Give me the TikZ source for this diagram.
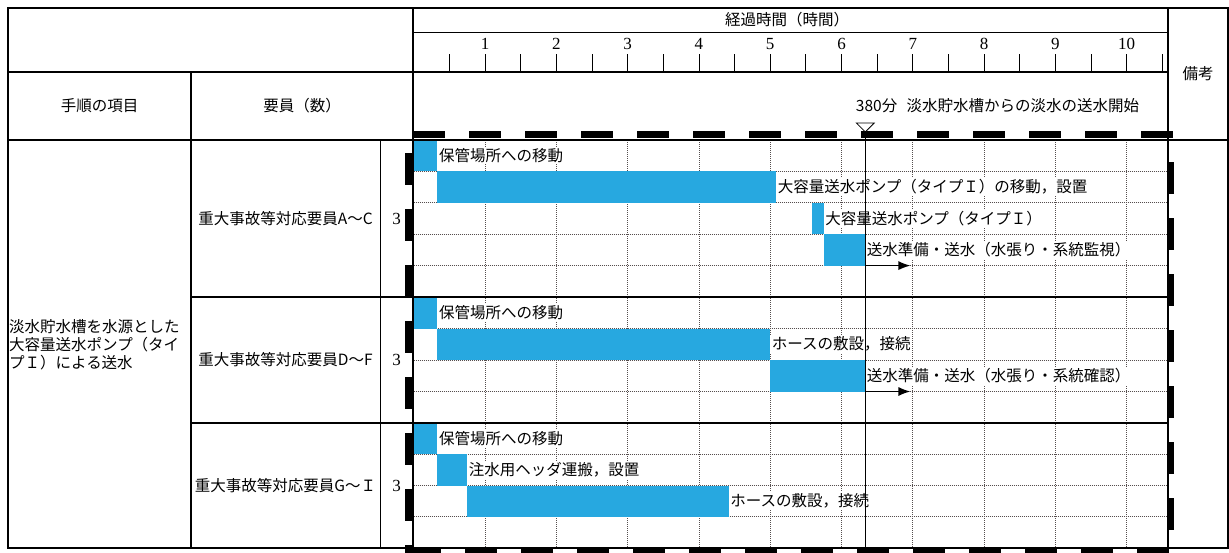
\documentclass[tikz,border=0pt]{standalone}
\usepackage{fontspec}
\setmainfont{Noto Sans CJK JP}
\newfontfamily\numfont{Liberation Serif}
\usetikzlibrary{arrows.meta}
\definecolor{pompe}{RGB}{39,168,224}
\definecolor{grille}{RGB}{85,78,78}

\begin{document}
\begin{tikzpicture}[x=1pt,y=-1pt,
  bar/.style={fill=pompe},
  task/.style={anchor=west,fill=white,inner sep=1.5pt,font=\fontsize{15.5}{16}\selectfont},
  lbl/.style={inner sep=0pt,font=\fontsize{15.5}{18}\selectfont},
  num/.style={inner sep=0pt,font=\numfont\fontsize{17}{17}\selectfont},
  grid/.style={grille,line width=0.7pt,dash pattern=on 1pt off 1pt},
  rule/.style={line width=1.3pt},
  go/.style={line width=1.3pt,-{Latex[length=12pt,width=9pt]}},
  bigdash/.style={line width=7.5pt,dash pattern=on 32pt off 24pt}]
\useasboundingbox (0,0) rectangle (1229,552);
\clip (0,0) rectangle (1229,552);

% chart area, x in minutes
\begin{scope}[shift={(413.7,0)},x=1.18833pt]
\foreach \m in {60,120,...,600}
  \draw[grid] (\m,140) -- (\m,548);
\foreach \yy in {171.4,202.8,234.2,265.6,328.5,360,391.5,454.25,485.5,516.75}
  \draw[grid] (0,\yy) -- (634.8,\yy);

\fill[bar] (0,140) rectangle (20,171.4);
\fill[bar] (20,171.4) rectangle (305,202.8);
\fill[bar] (335,202.8) rectangle (345,234.2);
\fill[bar] (345,234.2) rectangle (380,265.6);
\fill[bar] (0,297) rectangle (20,328.5);
\fill[bar] (20,328.5) rectangle (300,360);
\fill[bar] (300,360) rectangle (380,391.5);
\fill[bar] (0,423) rectangle (20,454.25);
\fill[bar] (20,454.25) rectangle (45,485.5);
\fill[bar] (45,485.5) rectangle (265,516.75);

\node[task] (a1) at (20,155.7) {保管場所への移動};
\node[task] (a2) at (305,187.1) {大容量送水ポンプ（タイプＩ）の移動，設置};
\node[task] (a3) at (345,218.5) {大容量送水ポンプ（タイプＩ）};
\node[task] (a4) at (380,249.9) {送水準備・送水（水張り・系統監視）};
\node[task] (d1) at (20,312.75) {保管場所への移動};
\node[task] (d2) at (300,344.25) {ホースの敷設，接続};
\node[task] (d3) at (380,375.75) {送水準備・送水（水張り・系統確認）};
\node[task] (g1) at (20,438.6) {保管場所への移動};
\node[task] (g2) at (45,469.9) {注水用ヘッダ運搬，設置};
\node[task] (g3) at (265,501.1) {ホースの敷設，接続};

% time scale
\foreach \m in {30,60,...,630}
  \draw[line width=0.8pt] (\m,54) -- (\m,72);
\foreach \h in {1,...,10}
  \node[num] (h\h) at (60*\h,44) {\h};

\node[lbl,anchor=west] (start) at (372,106) {380分\hspace{0.6em}淡水貯水槽からの淡水の送水開始};

\coordinate (a4go) at (380,265.6);
\coordinate (a4to) at (418,265.6);
\coordinate (d3go) at (380,391.5);
\coordinate (d3to) at (418,391.5);
\draw[go] (a4go) -- (a4to);
\draw[go] (d3go) -- (d3to);
\end{scope}

% table
\draw[rule] (8,8) rectangle (1228,548);
\draw[rule] (413,8) -- (413,548);
\draw[rule] (1168,8) -- (1168,548);
\draw[line width=0.8pt] (413,32) -- (1168,32);
\draw[rule] (8,72) -- (1168,72);
\draw[rule] (8,140) -- (1228,140);
\draw[rule] (191,72) -- (191,548);
\draw[line width=0.7pt] (380,140) -- (380,548);
\draw[rule] (191,297) -- (1168,297);
\draw[rule] (191,423) -- (1168,423);

\node[lbl] (elapsed) at (787,20) {経過時間（時間）};
\node[lbl] (item) at (99.5,106) {手順の項目};
\node[lbl] (crew) at (302,106) {要員（数）};
\node[lbl] (remark) at (1198,74) {備考};
\node[lbl,anchor=west,align=left] (proc) at (9,345) {淡水貯水槽を水源とした\\大容量送水ポンプ（タイ\\プＩ）による送水};
\node[lbl] (ac) at (285.5,218.5) {重大事故等対応要員A～C};
\node[lbl] (df) at (285.5,360) {重大事故等対応要員D～F};
\node[lbl] (gi) at (285.5,485.5) {重大事故等対応要員G～Ｉ};
\node[num] (nac) at (396.5,218.5) {3};
\node[num] (ndf) at (396.5,360) {3};
\node[num] (ngi) at (396.5,485.5) {3};

% dashed frame
\draw[bigdash] (413,134.5) -- (1174,134.5);
\draw[bigdash] (408.5,153) -- (408.5,560);
\draw[bigdash] (1170.5,162) -- (1170.5,560);
\draw[bigdash] (409,550.5) -- (1174,550.5);

% start of water supply
\coordinate (t380) at (865.3,132);
\draw[line width=0.8pt,fill=white] (856.4,123) -- (874.2,123) -- (t380) -- cycle;
\draw[line width=1.5pt] (t380) -- (865.3,548);
\end{tikzpicture}
\end{document}
